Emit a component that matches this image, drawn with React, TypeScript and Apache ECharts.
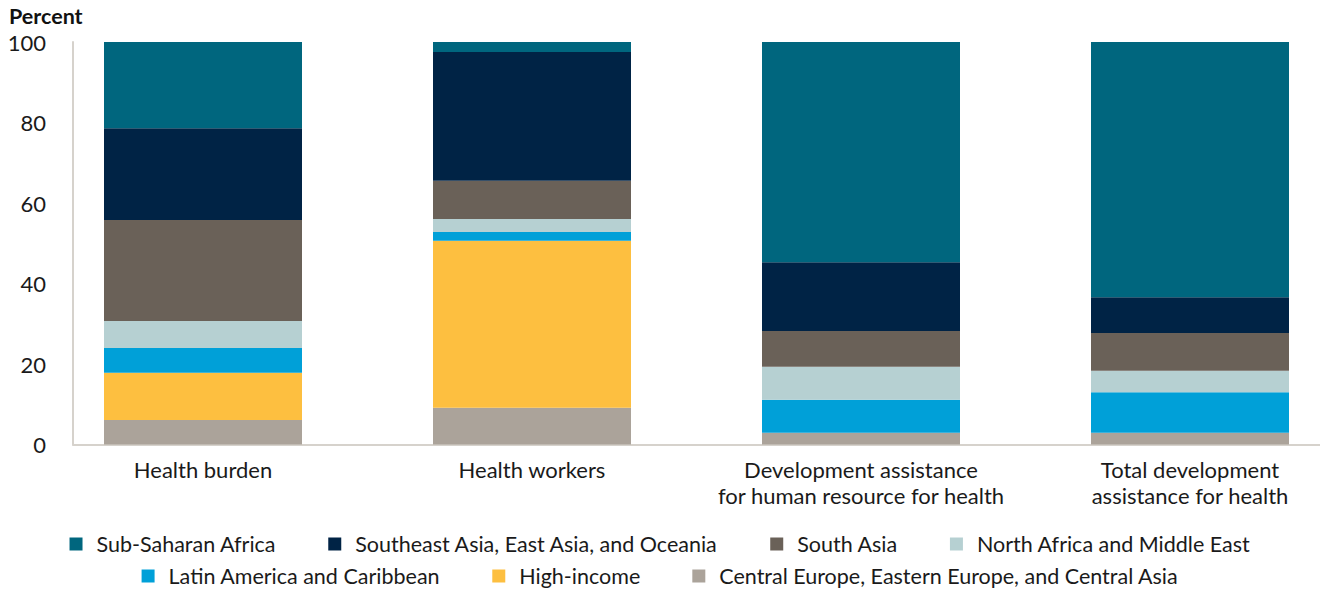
import React, { useEffect, useRef } from "react";
import * as echarts from "echarts";

const categories = [
  "Health burden",
  "Health workers",
  "Development assistance\nfor human resource for health",
  "Total development\nassistance for health",
];

const seriesNames = [
  "Central Europe, Eastern Europe, and Central Asia",
  "High-income",
  "Latin America and Caribbean",
  "North Africa and Middle East",
  "South Asia",
  "Southeast Asia, East Asia, and Oceania",
  "Sub-Saharan Africa",
];

const centralEurope = [6.1, 9.1, 2.9, 2.9];
const highIncome = [11.7, 41.5, 0, 0];
const latinAmerica = [6.2, 2.2, 8.2, 10.1];
const northAfrica = [6.7, 3.2, 8.2, 5.3];
const southAsia = [25.1, 9.5, 8.9, 9.4];
const southeastAsia = [22.8, 32.0, 17.1, 8.9];
const subSaharan = [21.4, 2.5, 54.7, 63.4];

const seriesValues = [
  centralEurope,
  highIncome,
  latinAmerica,
  northAfrica,
  southAsia,
  southeastAsia,
  subSaharan,
];

const colors = [
  "#aba39a",
  "#fdbf40",
  "#00a0d8",
  "#b6d0d2",
  "#6a6158",
  "#002345",
  "#00667e",
];

const yTicks = [0, 20, 40, 60, 80, 100];

const legendRow1 = [
  "Sub-Saharan Africa",
  "Southeast Asia, East Asia, and Oceania",
  "South Asia",
  "North Africa and Middle East",
];
const legendRow2 = [
  "Latin America and Caribbean",
  "High-income",
  "Central Europe, Eastern Europe, and Central Asia",
];

export default function App() {
  const ref = useRef<HTMLDivElement>(null);
  useEffect(() => {
    if (!ref.current) return;
    const chart = echarts.init(ref.current, null, { renderer: "svg" });
    const font = "Lato, 'Noto Sans', sans-serif";
    const legendCommon = {
      left: "center",
      orient: "horizontal",
      icon: "rect",
      itemWidth: 13,
      itemHeight: 13,
      itemGap: 52,
      padding: 0,
      selectedMode: false,
      textStyle: {
        fontFamily: font,
        fontSize: 21.5,
        color: "#1a1a1a",
        padding: [0, 0, 0, 9],
      },
    };
    chart.setOption({
      animation: false,
      textStyle: { fontFamily: font },
      title: {
        text: "Percent",
        left: 9,
        top: 6,
        padding: 0,
        textStyle: {
          fontFamily: font,
          fontSize: 21.5,
          lineHeight: 20,
          fontWeight: "bold",
          color: "#111",
        },
      },
      legend: [
        { ...legendCommon, top: 533, data: legendRow1 },
        { ...legendCommon, top: 565, data: legendRow2 },
      ],
      grid: [
        { left: 38.5, width: 1316, top: 42, height: 402.5, outerBoundsMode: "none", containLabel: false },
        { left: 73, width: 1247, top: 42, height: 402.5, outerBoundsMode: "none", containLabel: false },
      ],
      xAxis: [
        {
          type: "category",
          gridIndex: 0,
          data: categories,
          axisLine: { show: false },
          axisTick: { show: false },
          axisLabel: {
            fontFamily: font,
            fontSize: 22,
            color: "#1a1a1a",
            margin: 12,
            lineHeight: 26,
            interval: 0,
          },
        },
        {
          type: "category",
          gridIndex: 1,
          data: categories,
          axisLine: { show: true, lineStyle: { color: "#d6d2cc", width: 2 } },
          axisTick: { show: false },
          axisLabel: { show: false },
        },
      ],
      yAxis: [
        {
          type: "value",
          gridIndex: 0,
          min: 0,
          max: 100,
          interval: 20,
          show: false,
        },
        {
          type: "value",
          gridIndex: 1,
          min: yTicks[0],
          max: yTicks[yTicks.length - 1],
          interval: 20,
          axisLine: { show: true, lineStyle: { color: "#d6d2cc", width: 2 } },
          axisTick: { show: false },
          splitLine: { show: false },
          axisLabel: {
            fontFamily: font,
            fontSize: 22,
            lineHeight: 18,
            color: "#1a1a1a",
            margin: 27,
            padding: [2, 0, 0, 0],
          },
        },
      ],
      series: seriesNames.map((name, i) => ({
        name,
        type: "bar",
        stack: "total",
        xAxisIndex: 0,
        yAxisIndex: 0,
        barWidth: 198,
        data: seriesValues[i],
        itemStyle: { color: colors[i] },
        z: 3,
      })),
    });
    return () => chart.dispose();
  }, []);
  return (
    <div
      ref={ref}
      style={{ position: "fixed", left: 0, top: 0, width: 1320, height: 591, background: "#fff" }}
    />
  );
}
